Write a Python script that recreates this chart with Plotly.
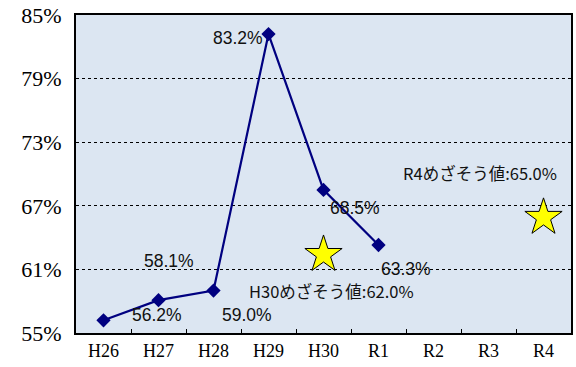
import plotly.graph_objects as go

categories = ["H26", "H27", "H28", "H29", "H30", "R1", "R2", "R3", "R4"]
actual_cats = ["H26", "H27", "H28", "H29", "H30", "R1"]
actual_vals = [56.2, 58.1, 59.0, 83.2, 68.5, 63.3]
value_labels = ["56.2%", "58.1%", "59.0%", "83.2%", "68.5%", "63.3%"]
target_cats = ["H30", "R4"]
target_vals = [62.4, 65.9]
target_labels = ["H30めざそう値:62.0%", "R4めざそう値:65.0%"]

# label anchor positions (category index, y value)
value_label_pos = [(0.97, 56.7), (1.19, 61.8), (2.6, 56.7), (2.44, 82.8), (4.57, 66.8), (5.5, 61.0)]
target_label_pos = [(4.15, 59.0), (6.84, 70.1)]

fig = go.Figure()
fig.add_trace(go.Scatter(
    x=actual_cats, y=actual_vals, mode="lines+markers",
    line=dict(color="#000080", width=2.2),
    marker=dict(symbol="diamond", size=11, color="#000080"),
    showlegend=False, hoverinfo="skip"))
fig.add_trace(go.Scatter(
    x=target_cats, y=target_vals, mode="markers",
    marker=dict(symbol="star", size=28, color="#FFFF00", line=dict(color="black", width=1)),
    showlegend=False, hoverinfo="skip"))

for txt, (px, py) in zip(value_labels, value_label_pos):
    fig.add_annotation(x=px, y=py, xref="x", yref="y", text=txt, showarrow=False,
                       font=dict(family="Liberation Sans, Arial", size=17.5, color="#111111"))
for txt, (px, py) in zip(target_labels, target_label_pos):
    fig.add_annotation(x=px, y=py, xref="x", yref="y", text=txt, showarrow=False,
                       font=dict(family="Noto Sans CJK JP", size=16.5, color="#111111"))

fig.update_layout(
    width=576, height=367,
    margin=dict(l=76, r=3, t=15, b=34),
    paper_bgcolor="white", plot_bgcolor="#DCE6F2",
    xaxis=dict(type="category", categoryorder="array", categoryarray=categories,
               range=[-0.5, 8.5], tickson="boundaries", ticks="inside", ticklen=4,
               tickcolor="black", showgrid=False, showline=True, linecolor="black",
               linewidth=2, mirror=True, zeroline=False,
               tickfont=dict(family="Liberation Serif, Times New Roman", size=18, color="black")),
    yaxis=dict(range=[55, 85], dtick=6, tick0=55, ticksuffix="%", showgrid=True,
               gridcolor="black", griddash="dot", gridwidth=1, showline=True,
               linecolor="black", linewidth=2, mirror=True, zeroline=False, ticks="",
               ticklabelstandoff=8, ticklabeloverflow="allow",
               tickfont=dict(family="Liberation Serif, Times New Roman", size=22, color="black")),
)

fig.write_html("out.html", config={"displayModeBar": False},
               post_script="document.body.style.margin='0';")
